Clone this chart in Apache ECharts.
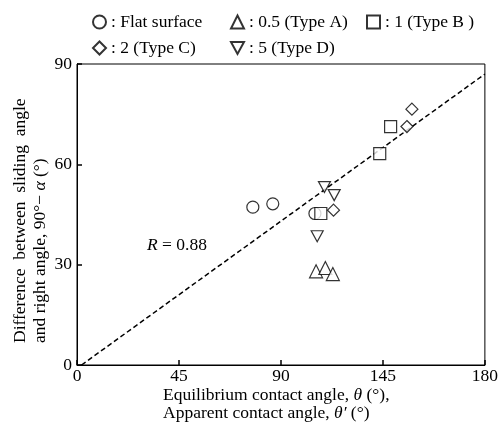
<!DOCTYPE html>
<html>
<head>
<meta charset="utf-8">
<script src="https://cdn.jsdelivr.net/npm/echarts@6/dist/echarts.min.js"></script>
<style>
  html, body { margin: 0; padding: 0; background: #fff; }
  #chart { width: 501px; height: 423px; }
</style>
</head>
<body>
<div id="chart"></div>
<script>
// Tick labels on the x axis (as printed on the figure)
const xTickLabels = ['0', '45', '90', '145', '180'];
const yTickLabels = ['0', '30', '60', '90'];

// Contact angle (x) vs. 90° − sliding angle (y) for each surface type
const flatX  = [77.6, 86.4, 105.0];
const flatY  = [47.2, 48.2, 45.3];
const typeAX = [105.5, 109.6, 112.9];
const typeAY = [28.0, 29.0, 27.2];
const typeBX = [107.6, 133.6, 138.4];
const typeBY = [45.3, 63.2, 71.3];
const typeCX = [113.2, 145.6, 147.8];
const typeCY = [46.3, 71.3, 76.5];
const typeDX = [109.2, 113.5, 106.0];
const typeDY = [53.2, 50.8, 38.5];

// Regression line end points
const fitX = [2, 180];
const fitY = [0, 87];

const seriesNames = ['Flat surface', '0.5 (Type A)', '1 (Type B )', '2 (Type C)', '5 (Type D)'];

const FONT = '"Liberation Serif", "DejaVu Serif", serif';
const FS = 17.5;
const downTri = 'path://M0,0L12,0L6,11Z';

const zip = (xs, ys) => xs.map((x, i) => [x, ys[i]]);

const hollow = { color: '#fff', borderColor: '#000', borderWidth: 1.2 };

function scatter(name, xs, ys, symbol, size) {
  return {
    name: name,
    type: 'scatter',
    data: zip(xs, ys),
    symbol: symbol,
    symbolSize: size,
    itemStyle: hollow,
    z: 3,
    emphasis: { disabled: true }
  };
}

function legendAt(name, icon, left, top) {
  return {
    data: [{ name: name, icon: icon }],
    left: left,
    top: top,
    padding: 0,
    itemWidth: 13,
    itemHeight: 13,
    selectedMode: false,
    formatter: n => ': ' + n,
    textStyle: { fontFamily: FONT, fontSize: FS, color: '#000' }
  };
}

const chart = echarts.init(document.getElementById('chart'), null, { renderer: 'canvas' });

chart.setOption({
  animation: false,
  backgroundColor: '#fff',
  grid: {
    left: 77, right: 11, top: 64, bottom: 58,
    show: true, borderColor: '#000', borderWidth: 1, backgroundColor: 'transparent'
  },
  legend: [
    legendAt(seriesNames[0], 'circle', 92, 13),
    legendAt(seriesNames[1], 'triangle', 230, 13),
    legendAt(seriesNames[2], 'rect', 366, 13),
    legendAt(seriesNames[3], 'diamond', 92, 39),
    legendAt(seriesNames[4], downTri, 230, 39)
  ],
  xAxis: {
    type: 'value',
    min: 0, max: 180, interval: 45,
    axisLine: { show: true, lineStyle: { color: '#000', width: 1 } },
    axisTick: { show: true, inside: true, length: 5, lineStyle: { color: '#000', width: 1.5 } },
    splitLine: { show: false },
    axisLabel: {
      color: '#000', fontFamily: FONT, fontSize: FS, margin: 2,
      formatter: v => xTickLabels[Math.round(v / 45)]
    }
  },
  yAxis: {
    type: 'value',
    min: 0, max: 90, interval: 30,
    axisLine: { show: true, lineStyle: { color: '#000', width: 1 } },
    axisTick: { show: true, inside: true, length: 5, lineStyle: { color: '#000', width: 1.5 } },
    splitLine: { show: false },
    axisLabel: {
      color: '#000', fontFamily: FONT, fontSize: FS, margin: 5,
      formatter: v => yTickLabels[Math.round(v / 30)]
    }
  },
  series: [
    {
      name: 'fit',
      type: 'line',
      data: zip(fitX, fitY),
      symbol: 'none',
      silent: true,
      z: 1,
      lineStyle: { color: '#000', width: 1.5, type: [5, 3] }
    },
    scatter(seriesNames[0], flatX, flatY, 'circle', 12),
    scatter(seriesNames[1], typeAX, typeAY, 'triangle', 13),
    scatter(seriesNames[2], typeBX, typeBY, 'rect', 12),
    scatter(seriesNames[3], typeCX, typeCY, 'diamond', 12),
    scatter(seriesNames[4], typeDX, typeDY, downTri, [12, 11])
  ],
  graphic: [
    {
      type: 'text',
      left: 147, top: 236,
      style: {
        text: '{i|R} = 0.88',
        font: FS + 'px ' + FONT,
        fill: '#000',
        rich: { i: { fontStyle: 'italic', fontFamily: FONT, fontSize: FS } }
      }
    },
    {
      type: 'text',
      left: 163, top: 386,
      style: {
        text: 'Equilibrium contact angle, {i|θ} (°),\nApparent contact angle, {i|θ′} (°)',
        font: FS + 'px ' + FONT,
        fill: '#000',
        lineHeight: 18,
        align: 'left',
        rich: { i: { fontStyle: 'italic', fontFamily: FONT, fontSize: FS, lineHeight: 18 } }
      }
    },
    {
      type: 'text',
      x: 10, y: 343,
      rotation: Math.PI / 2,
      style: {
        text: 'Difference  between  sliding  angle\nand right angle, 90°− {i|α} (°)',
        font: FS + 'px ' + FONT,
        fill: '#000',
        lineHeight: 20,
        align: 'left',
        verticalAlign: 'top',
        rich: { i: { fontStyle: 'italic', fontFamily: FONT, fontSize: FS, lineHeight: 20 } }
      }
    }
  ]
});
</script>
</body>
</html>
